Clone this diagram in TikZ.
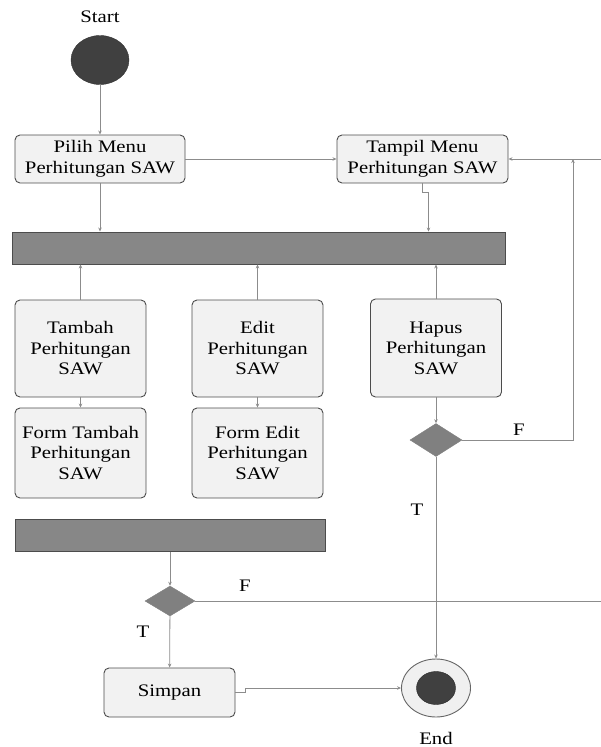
\documentclass[tikz,border=0pt]{standalone}
\usepackage{fontspec}
\setmainfont{Liberation Serif}[FakeStretch=1.18]
\usetikzlibrary{arrows.meta,shapes.geometric}
\tikzset{
	act/.style={draw=black!70, line width=0.9pt, fill=black!5, rounded corners=5pt, align=center, inner sep=0pt},
	bar/.style={draw=black!70, line width=0.9pt, fill=black!47, inner sep=0pt},
	dec/.style={diamond, fill=black!50, draw=black!50, inner sep=0pt},
	conn/.style={draw=black!45, line width=0.8pt, -{Stealth[length=4pt,width=3.5pt]}},
	plain/.style={draw=black!45, line width=0.8pt},
	lbl/.style={inner sep=0pt}
}

\begin{document}
\begin{tikzpicture}[x=1pt, y=-1pt, font=\fontsize{17.6}{20.5}\selectfont]
			%%%%% START %%%%%
			\useasboundingbox (0, 0) rectangle (601, 747);
			
			\node[lbl] (starttxt) at (100, 17) {Start};
			\node[ellipse, draw=black!80, fill=black!75, minimum width=58pt, minimum height=49pt, inner sep=0pt] (start) at (100, 60) {};
			
			\node[act, minimum width=170pt, minimum height=48pt] (pilih) at (100, 159) {Pilih Menu\\Perhitungan SAW};
			\node[act, minimum width=171pt, minimum height=48pt] (tampil) at (422.5, 159) {Tampil Menu\\Perhitungan SAW};
			\coordinate (rin) at (601, 159);
			\coordinate (loopup) at (573, 159);
			
			\node[bar, minimum width=493pt, minimum height=32pt] (bar1) at (258.5, 248) {};
			
			\node[act, minimum width=131pt, minimum height=97pt] (tambah) at (80.5, 348.5) {Tambah\\Perhitungan\\SAW};
			\node[act, minimum width=131pt, minimum height=97pt] (edit) at (257.5, 348.5) {Edit\\Perhitungan\\SAW};
			\node[act, minimum width=131pt, minimum height=98pt] (hapus) at (436, 348) {Hapus\\Perhitungan\\SAW};
			
			\node[act, minimum width=131pt, minimum height=90pt] (ftambah) at (80.5, 453) {Form Tambah\\Perhitungan\\SAW};
			\node[act, minimum width=131pt, minimum height=90pt] (fedit) at (257.5, 453) {Form Edit\\Perhitungan\\SAW};
			
			\node[dec, minimum width=52pt, minimum height=33pt] (dec1) at (436, 440) {};
			\node[lbl] (f1) at (519, 430) {F};
			\node[lbl] (t1) at (417, 510) {T};
			
			\node[bar, minimum width=310pt, minimum height=32pt] (bar2) at (170, 535.5) {};
			\node[dec, minimum width=50pt, minimum height=30pt] (dec2) at (170, 601) {};
			\node[lbl] (f2) at (245, 586) {F};
			\node[lbl] (t2) at (143, 632) {T};
			\coordinate (rout) at (601, 601);
			
			\node[act, minimum width=131pt, minimum height=49pt] (simpan) at (169.5, 692.5) {Simpan};
			
			\node[ellipse, draw=black!60, line width=0.9pt, fill=black!6, minimum width=69pt, minimum height=58pt, inner sep=0pt] (end) at (436, 688) {};
			\node[ellipse, draw=black!85, fill=black!75, minimum width=39pt, minimum height=33pt, inner sep=0pt] (endin) at (end.center) {};
			\node[lbl] (endtxt) at (436, 738) {End};
			
			% connectors
			\draw[conn] (start) -- (pilih);
			\draw[conn] (pilih) -- (tampil);
			\draw[conn] (rin) -- (tampil);
			\draw[conn] (pilih.south) -- (pilih.south |- bar1.north);
			\draw[conn] (tampil.south) -- ++(0, 9) -| ([xshift=6pt]tampil.south |- bar1.north);
			\draw[conn] (tambah.north) -- (tambah.north |- bar1.south);
			\draw[conn] (edit.north) -- (edit.north |- bar1.south);
			\draw[conn] (hapus.north) -- (hapus.north |- bar1.south);
			\draw[conn] (tambah) -- (ftambah);
			\draw[conn] (edit) -- (fedit);
			\draw[conn] (hapus) -- (dec1);
			\draw[conn] (dec1.east) -| (loopup);
			\draw[conn] (dec1) -- (end);
			
			\draw[conn] (bar2.south -| dec2.north) -- (dec2.north);
			\draw[plain] (dec2.east) -- (rout);
			\draw[conn] (dec2) -- (simpan);
			\draw[conn] (simpan.east) -- ++(10, 0) |- (end.west);
			
			%%%%% END %%%%%
		\end{tikzpicture}
\end{document}
